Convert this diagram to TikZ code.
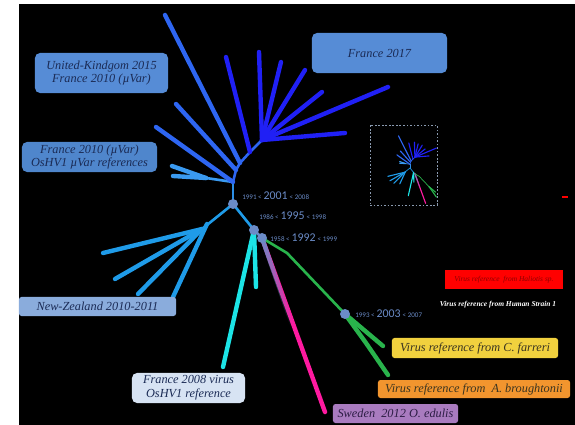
\documentclass[tikz,border=0pt]{standalone}
\usepackage{fontspec}
\setmainfont{Liberation Serif}
\newfontfamily\calib{Carlito}
\usetikzlibrary{positioning,fadings}

\definecolor{trunkblue}{HTML}{2C8FE6}
\definecolor{skyblue}{HTML}{1F9BE8}
\definecolor{paleblue}{HTML}{3A9AF0}
\definecolor{midblue}{HTML}{2E66F2}
\definecolor{deepblue}{HTML}{2020F5}
\definecolor{cyanbr}{HTML}{1CE4E6}
\definecolor{greenbr}{HTML}{29B34C}
\definecolor{magbr}{HTML}{FF1AA0}
\definecolor{datecol}{HTML}{6B8CC8}
\definecolor{boxblue}{HTML}{568CD6}
\definecolor{boxblueb}{HTML}{4F86CC}
\definecolor{nzblue}{HTML}{8AACDC}
\definecolor{refpale}{HTML}{D7E3F3}
\definecolor{yelbox}{HTML}{F1D13E}
\definecolor{orabox}{HTML}{F2952E}
\definecolor{violbox}{HTML}{A97BBF}
\definecolor{navyink}{HTML}{1B2B55}
\definecolor{oliveink}{HTML}{3A3420}
\definecolor{plumink}{HTML}{2D1D45}
\definecolor{insetgray}{HTML}{8A9AB0}

\newcommand\dates[3]{{\fontsize{8}{9}\selectfont #1 <} {\fontsize{13.5}{14}\selectfont #2} {\fontsize{8}{9}\selectfont < #3}}

\begin{document}
\begin{tikzpicture}[
    x=0.04cm, y=-0.04cm,
    leaf/.style={line width=5pt, line cap=round},
    stem/.style={line width=3pt, line cap=round, line join=round},
    datept/.style={circle, fill=datecol, inner sep=0pt, minimum size=0.4cm},
    datetxt/.style={text=datecol, font=\calib, inner sep=0pt},
    tagbox/.style={rounded corners=0.2cm, align=center, inner sep=0pt, text=navyink,
        font=\fontsize{14}{15.5}\selectfont\itshape},
    pics/oshvtree/.style={code={
        % trunk
        \coordinate (-root) at (0,0);
        \coordinate (-up1) at (0,-22);
        \coordinate (-up2) at (3,-34);
        \coordinate (-up3) at (7,-41);
        \coordinate (-up4) at (17,-52);
        \coordinate (-hub) at (29,-64);
        \coordinate (-sj) at (-27,-26);
        \draw[stem, trunkblue] (-root) -- (-up1);
        \draw[stem, midblue] (-up1) -- (-up2) -- (-up3) -- (-up4) -- (-hub);
        \draw[stem, paleblue] (-up1) -- (-sj);
        \coordinate (-sa) at (-61,-38);
        \coordinate (-sb) at (-60,-28);
        \draw[leaf, paleblue] (-sj) -- (-sa);
        \draw[leaf, paleblue] (-sj) -- (-sb);
        % upper left leaves
        \coordinate (-lA) at (-68,-189);
        \coordinate (-lB) at (-57,-100);
        \coordinate (-lC) at (-77,-77);
        \coordinate (-lD) at (-7,-147);
        \coordinate (-lE) at (26,-152);
        \draw[leaf, midblue] (-up3) -- (-lA);
        \draw[leaf, midblue] (-up2) -- (-lB);
        \draw[leaf, midblue] (-up1) -- (-lC);
        \draw[leaf, deepblue] (-up4) -- (-lD);
        \draw[leaf, deepblue] (-hub) -- (-lE);
        % France 2017 cluster
        \foreach \nm/\x/\y in {r1/48/-142, r2/72/-134, r3/89/-112, r4/155/-117, r5/112/-71} {
            \coordinate (-\nm) at (\x,\y);
            \draw[leaf, deepblue] (-hub) -- (-\nm);
        }
        % New-Zealand cluster
        \coordinate (-nzhub) at (-31,25);
        \coordinate (-nzhub2) at (-26,20);
        \draw[stem, skyblue] (-root) -- (-nzhub);
        \foreach \nm/\x/\y in {nz1/-130/49, nz2/-118/75, nz3/-95/90} {
            \coordinate (-\nm) at (\x,\y);
            \draw[leaf, skyblue] (-nzhub) -- (-\nm);
        }
        \coordinate (-nz4) at (-60,93);
        \draw[leaf, skyblue] (-nzhub2) -- (-nz4);
        % lower branches
        \coordinate (-n1995) at (21,26);
        \coordinate (-n1992) at (29,34);
        \coordinate (-cy1) at (-10,163);
        \coordinate (-cy2) at (23,83);
        \draw[stem, skyblue] (-root) -- (-n1995);
        \draw[stem, datecol] (-n1995) -- (-n1992);
        \draw[leaf, cyanbr] (-n1995) -- (-cy1);
        \draw[leaf, cyanbr] (-n1995) -- (-cy2);
        \coordinate (-mgmid) at (59,121);
        \coordinate (-mg) at (92,208);
        \draw[leaf, magbr] (-n1992) -- (-mg);
        \draw[leaf, datecol, path fading=south] (-n1992) -- (-mgmid);
        \coordinate (-g1) at (54,49);
        \coordinate (-n2003) at (112,110);
        \coordinate (-gA) at (150,142);
        \coordinate (-gB1) at (133,139);
        \coordinate (-gB) at (155,171);
        \draw[stem, greenbr] (-n1992) -- (-g1) -- (-n2003);
        \draw[leaf, greenbr] (-n2003) -- (-gA);
        \draw[leaf, greenbr] (-n2003) -- (-gB1) -- (-gB);
    }}
]
    \useasboundingbox (0,0) rectangle (575,425);
    \fill[white] (0,0) rectangle (575,425);
    \fill[black] (19,4) rectangle (575,425);

    % Tree
    \pic[shift={(233,204)}] (big) at (0,0) {oshvtree};
    \node[datept] (d2001) at (big-root) {};
    \node[datept] (d1995) at (big-n1995) {};
    \node[datept] (d1992) at (big-n1992) {};
    \node[datept] (d2003) at (big-n2003) {};
    \node[datetxt, right=0.16cm of d2001, yshift=0.32cm] (t2001) {\dates{1991}{2001}{2008}};
    \node[datetxt, right=0cm of d1995, yshift=0.56cm] (t1995) {\dates{1986}{1995}{1998}};
    \node[datetxt, right=0.12cm of d1992] (t1992) {\dates{1958}{1992}{1999}};
    \node[datetxt, right=0.2cm of d2003] (t2003) {\dates{1993}{2003}{2007}};

    % Inset
    \node[draw=insetgray, dash pattern=on 2pt off 2pt, line width=0.7pt,
        minimum width=2.68cm, minimum height=3.2cm] (inset) at (403.5,165) {};
    \pic[shift={(410,168)}, scale=0.17,
        leaf/.style={line width=1.3pt, line cap=round},
        stem/.style={line width=0.8pt, line cap=round}] (mini) at (0,0) {oshvtree};
    \coordinate (hal1) at (562,197);
    \coordinate (hal2) at (568,197);
    \draw[red, line width=1.5pt] (hal1) -- (hal2);

    % Boxes
    \node[tagbox, fill=boxblue, minimum width=5.32cm, minimum height=1.6cm] (ukfr) at (101.5,73)
        {United-Kindgom 2015\\ France 2010 (µVar)};
    \node[tagbox, fill=boxblue, minimum width=5.4cm, minimum height=1.6cm] (fr17) at (379.5,53)
        {France 2017};
    \node[tagbox, fill=boxblueb, minimum width=5.4cm, minimum height=1.2cm] (frvar) at (89.5,157)
        {France 2010 (µVar)\\ OsHV1 µVar references};
    \node[tagbox, fill=nzblue, rounded corners=0.1cm, minimum width=6.28cm, minimum height=0.76cm] (nz) at (97.5,306.5)
        {New-Zealand 2010-2011};
    \node[tagbox, fill=refpale, minimum width=4.52cm, minimum height=1.2cm] (fr08) at (188.5,388)
        {France 2008 virus\\ OsHV1 reference};
    \node[tagbox, fill=yelbox, text=oliveink, rounded corners=0.1cm, minimum width=6.64cm, minimum height=0.8cm] (farreri) at (475,348)
        {Virus reference from C. farreri};
    \node[tagbox, fill=orabox, text=oliveink, rounded corners=0.1cm, minimum width=7.68cm, minimum height=0.72cm] (brought) at (474,389)
        {Virus reference from \ A. broughtonii};
    \node[tagbox, fill=violbox, text=plumink, rounded corners=0.1cm, minimum width=5cm, minimum height=0.76cm] (sweden) at (395.5,413.5)
        {Sweden \ 2012 O. edulis};
    \node[tagbox, fill=red, text=red!55!black, rounded corners=0pt, minimum width=4.72cm, minimum height=0.76cm,
        font=\fontsize{8.5}{9}\selectfont\itshape] (haliotis) at (504,279.5)
        {Virus reference \ from Haliotis sp.};
    \node[text=white, inner sep=0pt, font=\fontsize{8.5}{9}\selectfont\bfseries\itshape] (human) at (498,305)
        {Virus reference from Human Strain 1};
\end{tikzpicture}
\end{document}
